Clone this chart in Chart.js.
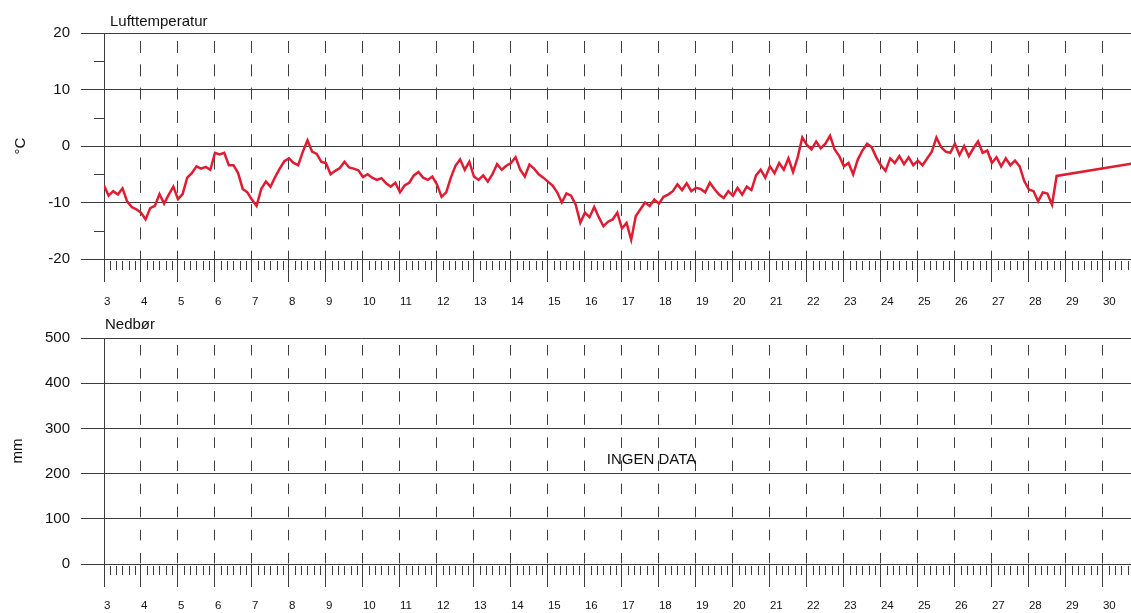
<!DOCTYPE html>
<html>
<head>
<meta charset="utf-8">
<title>Lufttemperatur og nedbør</title>
<script src="https://cdn.jsdelivr.net/npm/chart.js@4.4.1/dist/chart.umd.min.js"></script>
<style>
  html, body { margin: 0; padding: 0; background: #fff; }
  canvas { display: block; }
</style>
</head>
<body>
<canvas id="tempChart" width="1131" height="310"></canvas>
<canvas id="rainChart" width="1131" height="303"></canvas>
<script>
// x axis runs in days of the month
const dayMin = 3;
const dayMax = 30.76;

// air temperature, one reading every 3 hours from day 3 00:00
const tempStartDay = 3;
const tempStepHours = 3;
const temps = [
  -7.0, -8.8, -8.0, -8.6, -7.5, -9.8, -10.8, -11.2,    // 3
  -11.8, -13.0, -11.0, -10.6, -8.5, -10.2, -8.6, -7.2, // 4
  -9.4, -8.5, -5.6, -4.8, -3.6, -4.0, -3.7, -4.2,      // 5
  -1.2, -1.5, -1.2, -3.4, -3.4, -4.8, -7.6, -8.2,      // 6
  -9.5, -10.6, -7.6, -6.3, -7.2, -5.5, -4.0, -2.7,     // 7
  -2.2, -3.0, -3.4, -1.0, 1.0, -1.0, -1.4, -2.8,       // 8
  -3.0, -5.0, -4.4, -3.9, -2.8, -3.8, -4.0, -4.3,      // 9
  -5.5, -5.0, -5.6, -6.0, -5.7, -6.6, -7.2, -6.5,      // 10
  -8.2, -7.0, -6.5, -5.2, -4.6, -5.6, -6.0, -5.4,      // 11
  -6.8, -9.0, -8.2, -5.6, -3.5, -2.4, -4.2, -2.8,      // 12
  -5.4, -6.0, -5.2, -6.3, -5.0, -3.2, -4.2, -3.5,      // 13
  -3.0, -2.0, -4.2, -5.4, -3.3, -4.0, -5.0, -5.6,      // 14
  -6.3, -7.0, -8.2, -10.0, -8.4, -8.8, -10.4, -13.6,   // 15
  -11.8, -12.6, -10.8, -12.6, -14.2, -13.4, -13.0, -11.8, // 16
  -14.6, -13.6, -16.6, -12.4, -11.2, -10.0, -10.6, -9.5,  // 17
  -10.2, -9.0, -8.6, -8.0, -6.8, -7.8, -6.6, -8.0,     // 18
  -7.4, -7.6, -8.2, -6.5, -7.6, -8.6, -9.2, -8.0,      // 19
  -8.8, -7.4, -8.6, -7.2, -7.8, -5.2, -4.2, -5.6,      // 20
  -3.6, -4.8, -3.0, -4.2, -2.2, -4.6, -2.0, 1.5,       // 21
  0.2, -0.6, 0.8, -0.4, 0.4, 1.8, -0.6, -1.8,          // 22
  -3.6, -3.0, -5.0, -2.4, -0.8, 0.4, -0.2, -2.0,       // 23
  -3.4, -4.4, -2.2, -3.0, -1.8, -3.2, -2.0, -3.4,      // 24
  -2.6, -3.4, -2.2, -1.0, 1.5, -0.2, -1.0, -1.2,       // 25
  0.4, -1.6, 0.0, -1.8, -0.4, 0.8, -1.2, -0.8,         // 26
  -3.0, -2.0, -3.6, -2.2, -3.4, -2.6, -3.6, -6.2,      // 27
  -7.7, -8.0, -9.8, -8.2, -8.4, -10.4, -5.3            // 28
];
// after the gap only one more reading (off the right edge)
const tailDays = [31];
const tailTemps = [-2.9];

const tempTicks = [-20, -10, 0, 10, 20];
const tempMinorTicks = [-15, -5, 5, 15];
const rainTicks = [0, 100, 200, 300, 400, 500];

const gridColor = '#3c3c3c';
const lineColor = 'rgb(222, 28, 50)';
const fontFamily = "'Liberation Sans', Arial, sans-serif";
Chart.defaults.font.family = fontFamily;
Chart.defaults.color = '#111';

// build {x,y} points from the 3-hourly list plus the tail
const tempPoints = temps.map((t, i) => ({ x: tempStartDay + i * tempStepHours / 24, y: t }));
tailDays.forEach((d, i) => tempPoints.push({ x: d, y: tailTemps[i] }));

// minor ticks (4 h on x, half steps on y) and the texts on the canvas
const decorPlugin = {
  id: 'decor',
  afterDraw(chart, args, opts) {
    const { ctx, chartArea } = chart;
    const xs = chart.scales.x;
    const ys = chart.scales.y;
    ctx.save();
    ctx.strokeStyle = gridColor;
    ctx.lineWidth = 1;
    ctx.beginPath();
    for (let i = Math.ceil(xs.min * 6); i <= Math.floor(xs.max * 6); i++) {
      if (i % 6 === 0) continue;
      const px = Math.round(xs.getPixelForValue(i / 6)) + 0.5;
      ctx.moveTo(px, chartArea.bottom + 2);
      ctx.lineTo(px, chartArea.bottom + 11);
    }
    (opts.yMinor || []).forEach(v => {
      const py = Math.round(ys.getPixelForValue(v)) + 0.5;
      ctx.moveTo(chartArea.left - 10, py);
      ctx.lineTo(chartArea.left, py);
    });
    ctx.stroke();

    ctx.fillStyle = '#111';
    ctx.font = '15px ' + fontFamily;
    ctx.textAlign = 'left';
    ctx.textBaseline = 'alphabetic';
    ctx.fillText(opts.title, opts.titleX, opts.titleY);
    if (opts.note) {
      ctx.textAlign = 'center';
      ctx.textBaseline = 'middle';
      ctx.fillText(opts.note, xs.getPixelForValue(opts.noteDay), ys.getPixelForValue(opts.noteValue));
    }
    ctx.restore();
  }
};

function xAxis(axisHeight, dash, dashOffset, labelPad) {
  return {
    type: 'linear',
    min: dayMin,
    max: dayMax,
    afterFit(scale) { scale.height = axisHeight; },
    grid: {
      color: gridColor,
      lineWidth: 1,
      tickLength: 23,
      tickColor: gridColor
    },
    border: { display: true, color: gridColor, width: 1, dash: dash, dashOffset: dashOffset },
    ticks: {
      stepSize: 1,
      includeBounds: false,
      autoSkip: false,
      maxRotation: 0,
      align: 'start',
      padding: labelPad,
      font: { size: 11.5 },
      callback: v => String(v)
    }
  };
}

function yAxis(min, max, step, ticks, unit, titlePad) {
  return {
    type: 'linear',
    min: min,
    max: max,
    afterFit(scale) { scale.width = 104; },
    afterBuildTicks(scale) { scale.ticks = ticks.map(v => ({ value: v })); },
    grid: { color: gridColor, lineWidth: 1, tickLength: 23, tickColor: gridColor },
    border: { display: true, color: gridColor, width: 1 },
    ticks: { stepSize: step, padding: 11, font: { size: 15 } },
    title: { display: true, text: unit, font: { size: 15 }, color: '#111', padding: { top: titlePad, bottom: 0 } }
  };
}

new Chart(document.getElementById('tempChart'), {
  type: 'line',
  data: {
    datasets: [{
      label: 'Lufttemperatur',
      data: tempPoints,
      borderColor: lineColor,
      borderWidth: 2.5,
      borderJoinStyle: 'miter',
      pointRadius: 0,
      tension: 0
    }]
  },
  options: {
    responsive: false,
    animation: false,
    layout: { padding: { top: 33, right: 0, bottom: 0, left: 0 } },
    scales: {
      x: xAxis(51, [12, 11.3], 15.3, 13),
      y: yAxis(-20, 20, 10, tempTicks, '°C', 12)
    },
    plugins: {
      legend: { display: false },
      tooltip: { enabled: false },
      decor: { title: 'Lufttemperatur', titleX: 110, titleY: 26, yMinor: tempMinorTicks }
    }
  },
  plugins: [decorPlugin]
});

new Chart(document.getElementById('rainChart'), {
  type: 'line',
  data: { datasets: [{ label: 'Nedbør', data: [], borderColor: lineColor, pointRadius: 0 }] },
  options: {
    responsive: false,
    animation: false,
    layout: { padding: { top: 28, right: 0, bottom: 0, left: 0 } },
    scales: {
      x: xAxis(49, [10.5, 12.6], 16.1, 12),
      y: yAxis(0, 500, 100, rainTicks, 'mm', 9)
    },
    plugins: {
      legend: { display: false },
      tooltip: { enabled: false },
      decor: { title: 'Nedbør', titleX: 105, titleY: 19, note: 'INGEN DATA', noteDay: 17.8, noteValue: 230 }
    }
  },
  plugins: [decorPlugin]
});
</script>
</body>
</html>
